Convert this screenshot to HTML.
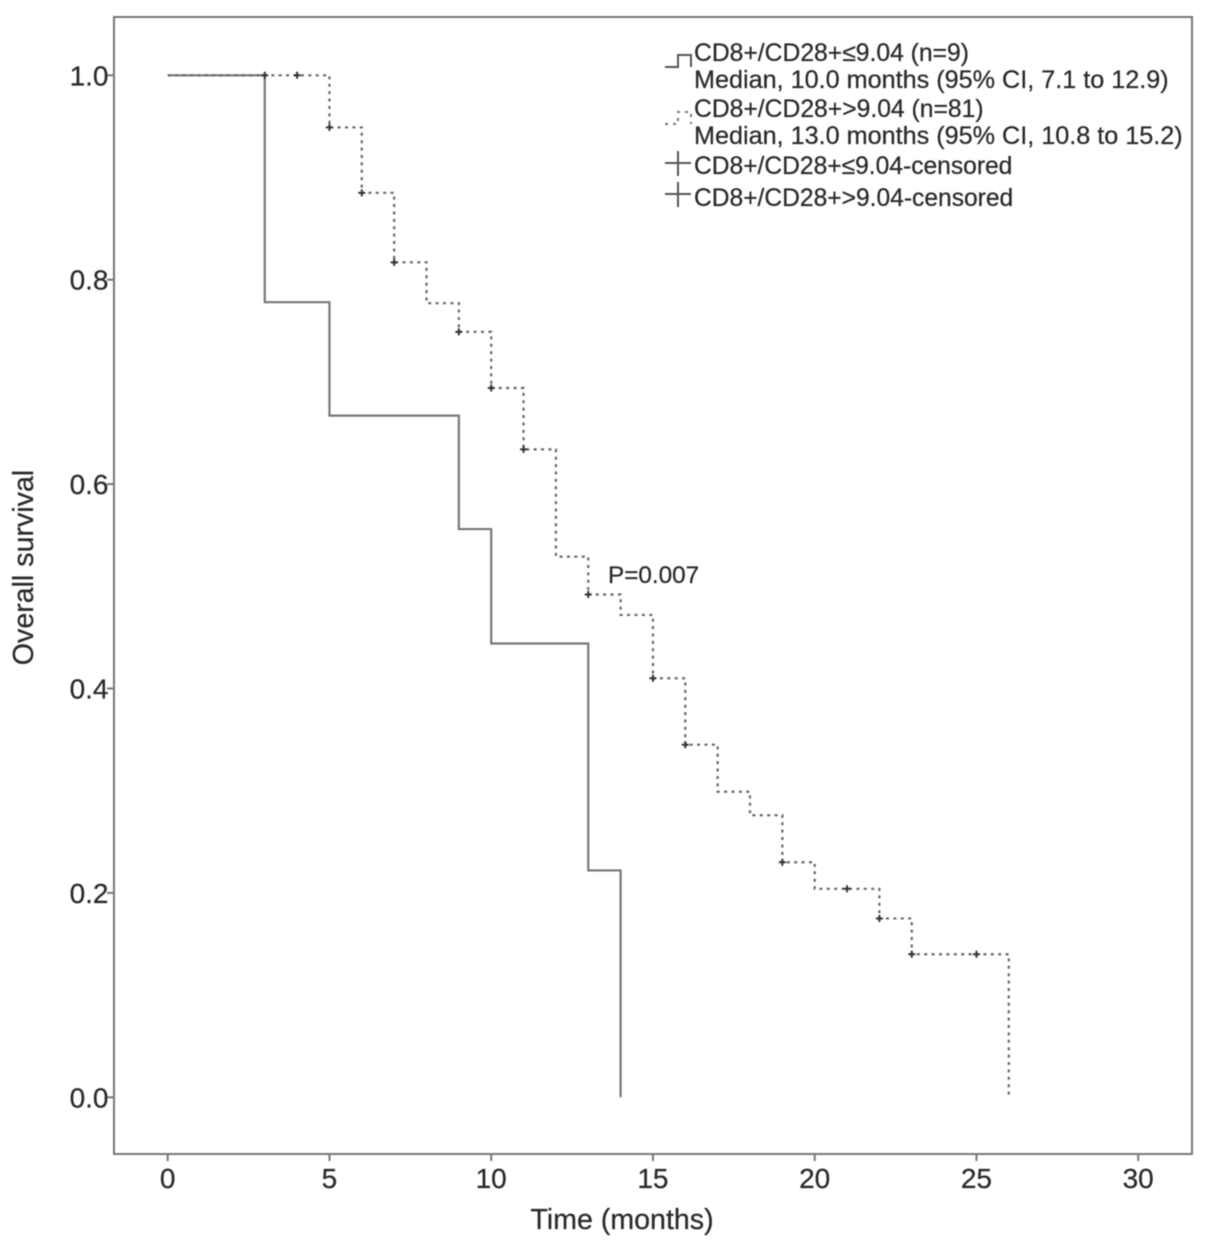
<!DOCTYPE html>
<html lang="en">
<head>
<meta charset="utf-8">
<title>Overall survival by CD8+/CD28+</title>
<style>
html,body{margin:0;padding:0;background:#fff;width:1205px;height:1247px;overflow:hidden}
svg{display:block;filter:blur(.6px)}
text{font-family:"Liberation Sans","DejaVu Sans",sans-serif;fill:#2a2a2a;stroke:#2a2a2a;stroke-width:.25px}
</style>
</head>
<body>
<svg id="chart" xmlns="http://www.w3.org/2000/svg" width="1205" height="1247" viewBox="0 0 1205 1247">
  <rect x="114" y="17" width="1078" height="1137" fill="#fff" stroke="#777" stroke-width="2"/>
  <g id="ticks"></g>
  <g id="series"></g>
  <text x="622" y="1229" font-size="28.6" text-anchor="middle">Time (months)</text>
  <text transform="translate(33,567.5) rotate(-90)" font-size="28.6" text-anchor="middle">Overall survival</text>
  <text x="608" y="583" font-size="24.3">P=0.007</text>
  <g font-size="25.2">
    <path d="M665 67H678V55H691V67" fill="none" stroke="#555" stroke-width="2"/>
    <text x="694" y="61" font-size="24.7">CD8+/CD28+≤9.04 (n=9)</text>
    <text x="694" y="88">Median, 10.0 months (95% CI, 7.1 to 12.9)</text>
    <path d="M665 124H678V112H691V124" fill="none" stroke="#777" stroke-width="2" stroke-dasharray="3 5"/>
    <text x="694" y="117" font-size="24.7">CD8+/CD28+&gt;9.04 (n=81)</text>
    <text x="694" y="144">Median, 13.0 months (95% CI, 10.8 to 15.2)</text>
    <path d="M665 163H691M678 151V176" fill="none" stroke="#555" stroke-width="2"/>
    <text x="694" y="174" font-size="24.6">CD8+/CD28+≤9.04-censored</text>
    <path d="M665 194H691M678 182V207" fill="none" stroke="#555" stroke-width="2"/>
    <text x="694" y="206" font-size="24.6">CD8+/CD28+&gt;9.04-censored</text>
  </g>
</svg>
<script>
const xTickValues = [0, 5, 10, 15, 20, 25, 30];
const yTickValues = [0.0, 0.2, 0.4, 0.6, 0.8, 1.0];
const lowTimes = [0, 3, 5, 9, 10, 13, 14];
const lowSurvival = [1.0, 0.778, 0.667, 0.556, 0.444, 0.222, 0.0];
const highTimes = [0, 5, 6, 7, 8, 9, 10, 11, 12, 13, 14, 15, 16, 17, 18, 19, 20, 22, 23, 26];
const highSurvival = [1.0, 0.949, 0.885, 0.817, 0.777, 0.749, 0.694, 0.634, 0.529, 0.492, 0.472, 0.41, 0.345, 0.299, 0.276, 0.23, 0.204, 0.175, 0.14, 0.0];
const lowCensorTimes = [3];
const lowCensorSurvival = [1.0];
const highCensorTimes = [4, 5, 6, 7, 9, 10, 11, 13, 15, 16, 19, 21, 22, 23, 25];
const highCensorSurvival = [1.0, 0.949, 0.885, 0.817, 0.749, 0.694, 0.634, 0.492, 0.41, 0.345, 0.23, 0.204, 0.175, 0.14, 0.14];

const NS = 'http://www.w3.org/2000/svg';
const xScale = t => 167.7 + t * 32.35;
const yScale = s => 1097.3 - s * 1022;
const ticksGroup = document.getElementById('ticks');
const seriesGroup = document.getElementById('series');

function make(tag, attrs, parent) {
  const el = document.createElementNS(NS, tag);
  for (const k in attrs) el.setAttribute(k, attrs[k]);
  parent.appendChild(el);
  return el;
}

xTickValues.forEach(v => {
  const x = xScale(v);
  const tick = make('line', {x1: x, x2: x, y1: 1154, y2: 1161, stroke: '#777', 'stroke-width': 2}, ticksGroup);
  
  
  const label = make('text', {x: x, y: 1188, 'font-size': 28, 'text-anchor': 'middle'}, ticksGroup);
  label.textContent = String(v);
  
  
});

yTickValues.forEach(v => {
  const y = yScale(v);
  const tick = make('line', {x1: 107, x2: 114, y1: y, y2: y, stroke: '#777', 'stroke-width': 2}, ticksGroup);
  
  
  const label = make('text', {x: 108.5, y: y + 10, 'font-size': 28, 'text-anchor': 'end'}, ticksGroup);
  label.textContent = v.toFixed(1);
  
  
});

function stepPath(times, values) {
  let d = 'M' + xScale(times[0]) + ' ' + yScale(values[0]);
  for (let i = 1; i < times.length; i++) {
    d += 'H' + xScale(times[i]) + 'V' + yScale(values[i]);
  }
  return d;
}

const lowLine = make('path', {d: stepPath(lowTimes, lowSurvival), fill: 'none', stroke: '#777', 'stroke-width': 2.2}, seriesGroup);



const highLine = make('path', {d: stepPath(highTimes, highSurvival), fill: 'none', stroke: '#666', 'stroke-width': 2.2, 'stroke-dasharray': '3 4.4'}, seriesGroup);



function censorMarks(times, values, name) {
  times.forEach((t, i) => {
    const x = xScale(t), y = yScale(values[i]);
    const mark = make('path', {d: 'M' + (x - 3.5) + ' ' + y + 'h7M' + x + ' ' + (y - 3.5) + 'v7', stroke: '#333', 'stroke-width': 2, fill: 'none'}, seriesGroup);
    
    
  });
}
censorMarks(highCensorTimes, highCensorSurvival, 'censor-mark-high-ratio');
censorMarks(lowCensorTimes, lowCensorSurvival, 'censor-mark-low-ratio');
</script>
</body>
</html>
